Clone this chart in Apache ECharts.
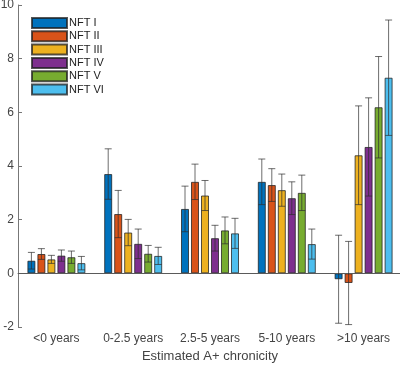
<!DOCTYPE html>
<html>
<head>
<meta charset="utf-8">
<script src="https://cdn.jsdelivr.net/npm/echarts@6/dist/echarts.min.js"></script>
<style>
  html, body { margin: 0; padding: 0; background: #fff; }
  #chart { width: 400px; height: 365px; }
</style>
</head>
<body>
<div id="chart"></div>
<script>
const categories = ['<0 years', '0-2.5 years', '2.5-5 years', '5-10 years', '>10 years'];
const seriesNames = ['NFT I', 'NFT II', 'NFT III', 'NFT IV', 'NFT V', 'NFT VI'];
const colors = ['#0072BD', '#D95319', '#EDB120', '#7E2F8E', '#77AC30', '#4DBEEE'];

const nftI = [0.47, 3.70, 2.40, 3.41, -0.22];
const nftII = [0.72, 2.21, 3.41, 3.29, -0.36];
const nftIII = [0.52, 1.52, 2.90, 3.10, 4.40];
const nftIV = [0.66, 1.10, 1.31, 2.80, 4.71];
const nftV = [0.60, 0.73, 1.60, 3.00, 6.19];
const nftVI = [0.38, 0.65, 1.49, 1.09, 7.29];

const errI = [0.31, 0.94, 0.85, 0.85, 1.64];
const errII = [0.20, 0.88, 0.66, 0.61, 1.55];
const errIII = [0.15, 0.49, 0.56, 0.60, 1.84];
const errIV = [0.21, 0.55, 0.48, 0.61, 1.83];
const errV = [0.23, 0.31, 0.50, 0.66, 1.89];
const errVI = [0.25, 0.32, 0.56, 0.56, 2.15];

const values = [nftI, nftII, nftIII, nftIV, nftV, nftVI];
const errors = [errI, errII, errIII, errIV, errV, errVI];

const barWidth = 8;
const barPitch = 10;
const font = 'Liberation Sans, Arial, sans-serif';

// one custom series for all error bars: [category, series, low, high]
const errData = [];
values.forEach((vals, s) => {
  vals.forEach((v, c) => {
    errData.push([c, s, v - errors[s][c], v + errors[s][c]]);
  });
});

const barSeries = values.map((vals, s) => ({
  name: seriesNames[s],
  type: 'bar',
  data: vals,
  barWidth: barWidth,
  barGap: '25%',
  itemStyle: {
    color: colors[s],
    borderColor: 'rgba(30,30,30,0.75)',
    borderWidth: 1
  },
  emphasis: { disabled: true },
  markLine: s === 0 ? {
    silent: true,
    symbol: 'none',
    label: { show: false },
    lineStyle: { color: '#5a5a5a', width: 1, type: 'solid' },
    data: [{ yAxis: 0 }]
  } : undefined
}));

const chart = echarts.init(document.getElementById('chart'));
chart.setOption({
  animation: false,
  color: colors,
  grid: { left: 18, top: 5, width: 384, height: 322, outerBoundsMode: 'none', containLabel: false },
  legend: {
    orient: 'vertical',
    left: 31,
    top: 17,
    padding: 0,
    icon: 'rect',
    itemWidth: 35,
    itemHeight: 10,
    itemGap: 1.3,
    data: seriesNames,
    textStyle: { fontFamily: font, fontSize: 11, color: '#222', padding: [0, 0, 0, -3] }
  },
  xAxis: {
    type: 'category',
    data: categories,
    name: 'Estimated A+ chronicity',
    nameLocation: 'middle',
    nameGap: 23,
    nameTextStyle: { fontFamily: font, fontSize: 13, color: '#444' },
    axisLine: { lineStyle: { color: '#777' } },
    axisTick: { inside: true, length: 4, alignWithLabel: true, lineStyle: { color: '#777' } },
    axisLabel: { interval: 0, fontFamily: font, fontSize: 12, color: '#444', margin: 6 },
    splitLine: { show: false }
  },
  yAxis: {
    type: 'value',
    min: -2,
    max: 10,
    interval: 2,
    axisLine: { show: true, lineStyle: { color: '#777' } },
    axisTick: { show: true, inside: true, length: 4, lineStyle: { color: '#777' } },
    axisLabel: { fontFamily: font, fontSize: 12, color: '#444', margin: 4 },
    splitLine: { show: false }
  },
  series: barSeries.concat([{
    type: 'custom',
    name: 'errors',
    z: 10,
    silent: true,
    data: errData,
    encode: { x: 0, y: [2, 3] },
    renderItem: function (params, api) {
      const c = api.value(0);
      const s = api.value(1);
      const lo = api.coord([c, api.value(2)]);
      const hi = api.coord([c, api.value(3)]);
      const x = lo[0] + (s - 2.5) * barPitch;
      const cap = 3.5;
      const style = { stroke: 'rgba(45,45,45,0.7)', lineWidth: 1 };
      return {
        type: 'group',
        children: [
          { type: 'line', shape: { x1: x, y1: lo[1], x2: x, y2: hi[1] }, style: style },
          { type: 'line', shape: { x1: x - cap, y1: hi[1], x2: x + cap, y2: hi[1] }, style: style },
          { type: 'line', shape: { x1: x - cap, y1: lo[1], x2: x + cap, y2: lo[1] }, style: style }
        ]
      };
    }
  }])
});
</script>
</body>
</html>
